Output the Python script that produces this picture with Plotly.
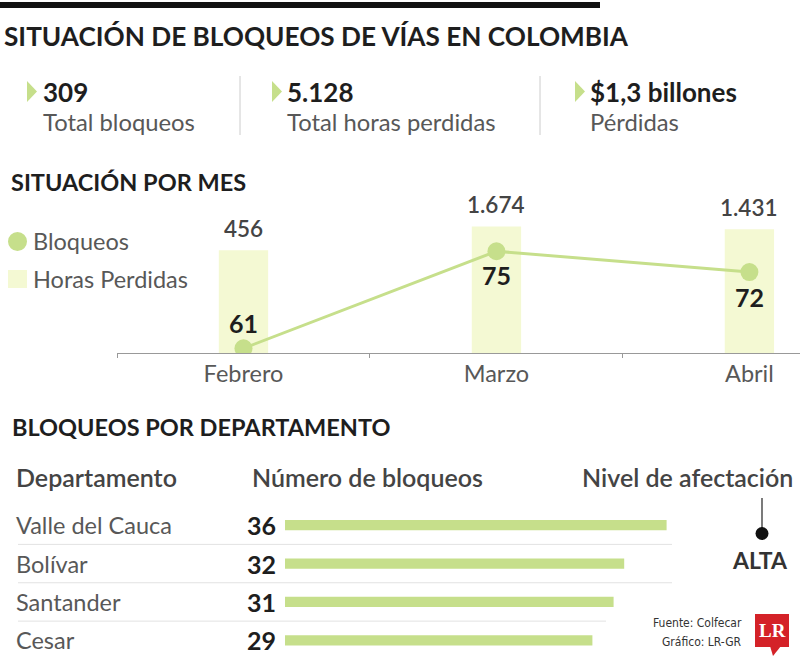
import plotly.graph_objects as go
import numpy as np

# ---------------- data ----------------
title = "SITUACIÓN DE BLOQUEOS DE VÍAS EN COLOMBIA"
kpi_values = ["309", "5.128", "$1,3 billones"]
kpi_labels = ["Total bloqueos", "Total horas perdidas", "Pérdidas"]
section1 = "SITUACIÓN POR MES"
legend_names = ["Bloqueos", "Horas Perdidas"]
months = ["Febrero", "Marzo", "Abril"]
horas_perdidas = [456, 1674, 1431]
horas_labels = ["456", "1.674", "1.431"]
bloqueos = [61, 75, 72]
section2 = "BLOQUEOS POR DEPARTAMENTO"
col_headers = ["Departamento", "Número de bloqueos", "Nivel de afectación"]
departamentos = ["Valle del Cauca", "Bolívar", "Santander", "Cesar"]
dept_bloqueos = [36, 32, 31, 29]
nivel = "ALTA"
fuente = ["Fuente: Colfecar", "Gráfico: LR-GR"]

# ---------------- styles ----------------
W, H = 800, 666
def px(x): return x / W
def py(y): return 1 - y / H

FONT = "Lato, 'Open Sans', sans-serif"
GREEN = "#c6df8b"
PALE = "#f4f9d3"
DARK = "#1e1e1e"
GRAY = "#585858"
LIGHT_W = 400

fig = go.Figure()

# bars: horas perdidas (base axis, log scale)
fig.add_trace(go.Bar(
    x=months, y=horas_perdidas, xaxis="x", yaxis="y",
    marker=dict(color=PALE, line=dict(width=0)), width=0.195,
    hoverinfo="skip", showlegend=False))

# line: bloqueos (overlaying axis)
fig.add_trace(go.Scatter(
    x=months, y=bloqueos, xaxis="x", yaxis="y2", mode="lines+markers",
    line=dict(color=GREEN, width=3), marker=dict(color=GREEN, size=18),
    hoverinfo="skip", showlegend=False))

# departments horizontal bars
fig.add_trace(go.Bar(
    x=dept_bloqueos, y=departamentos, orientation="h", xaxis="x3", yaxis="y3",
    marker=dict(color=GREEN, line=dict(width=0)), width=0.27,
    hoverinfo="skip", showlegend=False))

ann = []
shapes = []

def text(x, y, s, size, color=GRAY, weight="normal", xanchor="left", family=FONT, **kw):
    ann.append(dict(x=px(x), y=py(y), xref="paper", yref="paper", text=s,
                    showarrow=False, xanchor=xanchor, yanchor="middle",
                    font=dict(family=family, size=size, color=color, weight=weight), **kw))

# top black bar
shapes.append(dict(type="rect", xref="paper", yref="paper", x0=0, x1=px(600),
                   y0=py(8), y1=py(2), fillcolor="#111", line=dict(width=0)))
text(2, 36, title, 26.2, DARK, "bold")

# KPIs
kpi_x = [41, 285, 588]
tri_x = [27, 272, 575]
for i in range(3):
    text(kpi_x[i], 92, kpi_values[i], 26, DARK, "bold")
    text(kpi_x[i], 122, kpi_labels[i], 23.8, GRAY, LIGHT_W)
    t = tri_x[i]
    shapes.append(dict(type="path", xref="paper", yref="paper",
                       path=f"M {px(t)},{py(81)} L {px(t+10)},{py(91.5)} L {px(t)},{py(102)} Z",
                       fillcolor=GREEN, line=dict(width=0)))
for dx in [240, 540]:
    shapes.append(dict(type="line", xref="paper", yref="paper", x0=px(dx), x1=px(dx),
                       y0=py(76), y1=py(135), line=dict(color="#cccccc", width=1)))

# section 1
text(9, 182, section1, 23.5, DARK, "bold")
shapes.append(dict(type="circle", xref="paper", yref="paper", x0=px(8), x1=px(27),
                   y0=py(251), y1=py(232), fillcolor=GREEN, line=dict(width=0)))
shapes.append(dict(type="rect", xref="paper", yref="paper", x0=px(8), x1=px(27),
                   y0=py(288), y1=py(270), fillcolor=PALE, line=dict(width=0)))
text(31, 241, legend_names[0], 23.5, GRAY, LIGHT_W)
text(31, 279, legend_names[1], 23.5, GRAY, LIGHT_W)

# bar labels and line labels
line_shift = [25, -24, -25]
for i, m in enumerate(months):
    ann.append(dict(x=m, y=float(np.log10(horas_perdidas[i])), xref="x", yref="y",
                    text=horas_labels[i], showarrow=False, yanchor="middle", yshift=22,
                    font=dict(family=FONT, size=22.5, color="#444", weight=600)))
    ann.append(dict(x=m, y=bloqueos[i], xref="x", yref="y2", text=str(bloqueos[i]),
                    showarrow=False, yanchor="middle", yshift=line_shift[i],
                    font=dict(family=FONT, size=25, color=DARK, weight="bold")))

# section 2
text(10, 427, section2, 23.5, DARK, "bold")
text(14, 477, col_headers[0], 25, "#444", 600)
text(250, 477, col_headers[1], 25, "#444", 600)
text(795, 477, col_headers[2], 25, "#444", 600, xanchor="right")

for i, d in enumerate(departamentos):
    ann.append(dict(x=px(14), y=d, xref="paper", yref="y3", text=d, showarrow=False,
                    xanchor="left", yanchor="middle",
                    font=dict(family=FONT, size=23.5, color=GRAY, weight=LIGHT_W)))
    ann.append(dict(x=px(278), y=d, xref="paper", yref="y3", text=str(dept_bloqueos[i]),
                    showarrow=False, xanchor="right", yanchor="middle",
                    font=dict(family=FONT, size=25, color=DARK, weight="bold")))
sep_end = [672, 672, 606]
for i in range(3):
    shapes.append(dict(type="line", xref="paper", yref="y3", x0=px(18), x1=px(sep_end[i]),
                       y0=i + 0.5, y1=i + 0.5, line=dict(color="#e2e2e2", width=1)))

# nivel de afectación
shapes.append(dict(type="line", xref="paper", yref="paper", x0=px(762), x1=px(762),
                   y0=py(498), y1=py(532), line=dict(color="#222", width=1.2)))
shapes.append(dict(type="circle", xref="paper", yref="paper", x0=px(755.5), x1=px(768.5),
                   y0=py(540), y1=py(527), fillcolor="#111", line=dict(width=0)))
text(760, 560, nivel, 23, "#333", "bold", xanchor="center")

# footer
FOOT = "'Liberation Sans Narrow', 'DejaVu Sans Condensed', sans-serif"
text(744, 623, fuente[0], 12, "#333", "normal", xanchor="right", family=FOOT)
text(744, 642, fuente[1], 12, "#333", "normal", xanchor="right", family=FOOT)
shapes.append(dict(type="rect", xref="paper", yref="paper", x0=px(755), x1=px(789),
                   y0=py(647), y1=py(614), fillcolor="#d42228", line=dict(width=0)))
shapes.append(dict(type="path", xref="paper", yref="paper",
                   path=f"M {px(770)},{py(646)} L {px(781)},{py(646)} L {px(773)},{py(656)} Z",
                   fillcolor="#d42228", line=dict(width=0)))
text(772, 630, "LR", 19, "white", "bold", xanchor="center",
     family="'Liberation Serif', 'DejaVu Serif', serif")

fig.update_layout(
    width=W, height=H, margin=dict(l=0, r=0, t=0, b=0),
    paper_bgcolor="white", plot_bgcolor="rgba(0,0,0,0)",
    showlegend=False, barmode="overlay",
    xaxis=dict(domain=[px(117), 1], type="category", range=[-0.5, 2.2], anchor="y",
               showline=True, linecolor="#999", linewidth=1, ticks="outside",
               tickson="boundaries", ticklen=4, tickcolor="#999", showgrid=False,
               zeroline=False, fixedrange=True,
               tickfont=dict(family=FONT, size=23.5, color=GRAY, weight=LIGHT_W)),
    yaxis=dict(domain=[py(353), py(190)], type="log", range=[0.2125, 4.0917],
               visible=False, anchor="x"),
    yaxis2=dict(overlaying="y", range=[60.32, 83.84], visible=False, anchor="x"),
    xaxis3=dict(domain=[px(285), px(700)], range=[0, 415 / 10.6], anchor="y3",
                visible=False),
    yaxis3=dict(domain=[py(659.5), py(506)], type="category", autorange="reversed",
                anchor="x3", visible=False),
    annotations=ann, shapes=shapes,
)

fig.write_html("out.html")
